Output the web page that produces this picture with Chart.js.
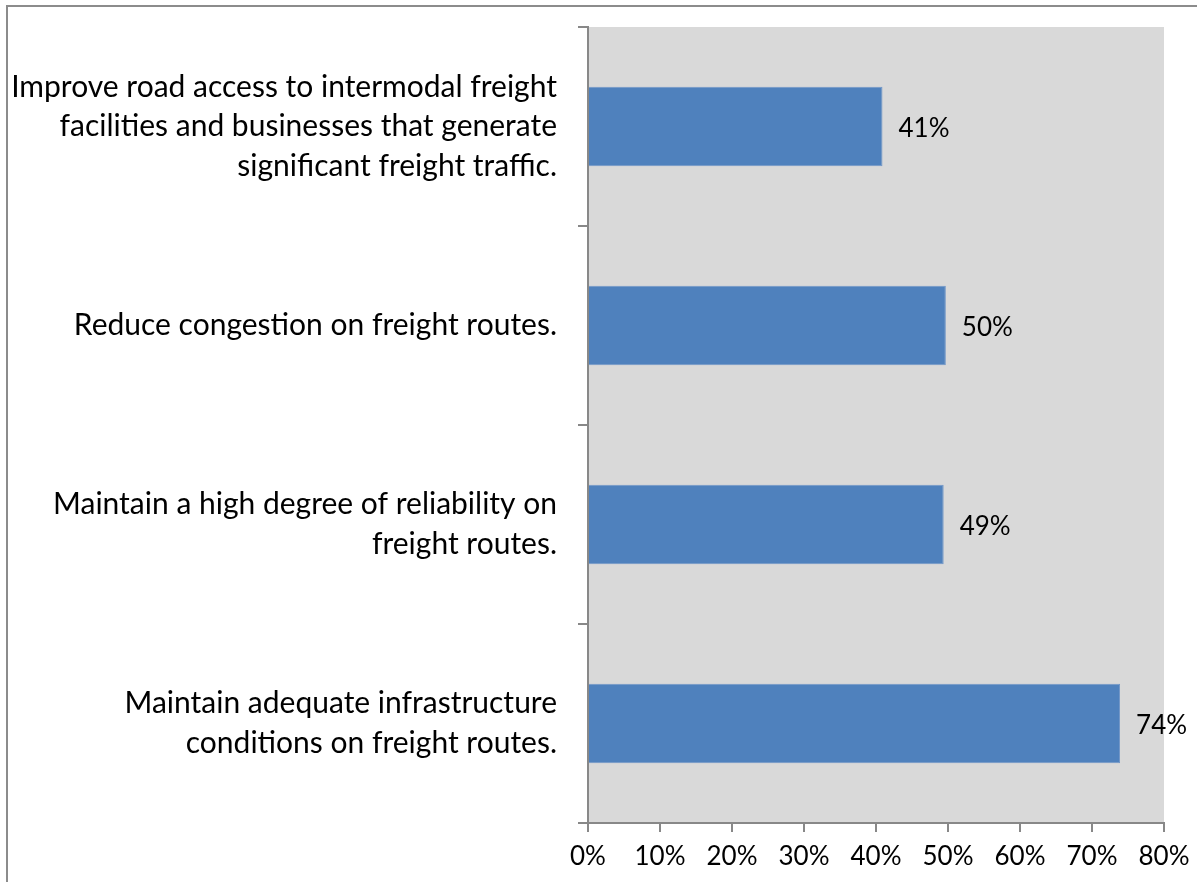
<!DOCTYPE html>
<html>
<head>
<meta charset="utf-8">
<script src="https://cdn.jsdelivr.net/npm/chart.js@4/dist/chart.umd.min.js"></script>
<style>
  html, body { margin: 0; padding: 0; background: #ffffff; }
  #wrap { width: 1197px; height: 882px; position: relative; }
</style>
</head>
<body>
<div id="wrap"><canvas id="c" width="1197" height="882"></canvas></div>
<script>
const categories = [
  ["Improve road access to intermodal freight", "facilities and businesses that generate", "significant freight traffic."],
  ["Reduce congestion on freight routes."],
  ["Maintain a high degree of reliability on", "freight routes."],
  ["Maintain adequate infrastructure", "conditions on freight routes."]
];
const values = [40.9, 49.7, 49.4, 73.9];
const tickValues = [0, 10, 20, 30, 40, 50, 60, 70, 80];

const FONT = "Lato, 'Open Sans', sans-serif";
const AXIS_COLOR = "#888888";

const plotBg = {
  id: 'plotBg',
  beforeDraw(chart) {
    const { ctx, chartArea: a } = chart;
    ctx.save();
    ctx.fillStyle = '#ffffff';
    ctx.fillRect(0, 0, chart.width, chart.height);
    ctx.strokeStyle = '#8c8c8c';
    ctx.lineWidth = 2;
    ctx.strokeRect(7, 6, chart.width + 20, chart.height + 20);
    ctx.fillStyle = '#d9d9d9';
    ctx.fillRect(a.left, a.top, a.right - a.left, a.bottom - a.top);
    ctx.restore();
  }
};

const dataLabels = {
  id: 'dataLabels',
  afterDatasetsDraw(chart) {
    const { ctx } = chart;
    const meta = chart.getDatasetMeta(0);
    ctx.save();
    ctx.fillStyle = '#000000';
    ctx.font = "26px " + FONT;
    ctx.textAlign = 'left';
    ctx.textBaseline = 'middle';
    meta.data.forEach((bar, i) => {
      ctx.fillText(Math.round(values[i]) + '%', bar.x + 16, bar.y + 2);
    });
    ctx.restore();
  }
};

new Chart(document.getElementById('c'), {
  type: 'bar',
  data: {
    labels: categories,
    datasets: [{
      data: values,
      backgroundColor: '#4F81BD',
      borderColor: '#7096C8',
      borderWidth: 1,
      categoryPercentage: 1.0,
      barPercentage: 0.4
    }]
  },
  options: {
    indexAxis: 'y',
    responsive: false,
    animation: false,
    devicePixelRatio: 1,
    layout: { padding: { left: 0, right: 33, top: 27, bottom: 0 } },
    plugins: { legend: { display: false }, tooltip: { enabled: false } },
    scales: {
      x: {
        min: 0, max: 80,
        afterBuildTicks(scale) { scale.ticks = tickValues.map(v => ({ value: v })); },
        afterFit(scale) { scale.height = 59; scale.paddingLeft = 0; scale.paddingRight = 0; },
        ticks: {
          callback: v => v + '%',
          color: '#000000',
          font: { family: FONT, size: 26 },
          padding: 9,
          maxRotation: 0
        },
        grid: { drawOnChartArea: false, drawTicks: true, tickLength: 9, color: AXIS_COLOR, lineWidth: 2 },
        border: { display: true, color: AXIS_COLOR, width: 2 }
      },
      y: {
        afterFit(scale) { scale.width = 588; scale.paddingTop = 0; scale.paddingBottom = 0; },
        ticks: {
          color: '#000000',
          font: { family: FONT, size: 30, lineHeight: 1.32 },
          padding: 21,
          autoSkip: false
        },
        grid: { drawOnChartArea: false, drawTicks: true, tickLength: 10, color: AXIS_COLOR, lineWidth: 2, offset: true },
        border: { display: true, color: AXIS_COLOR, width: 2 }
      }
    }
  },
  plugins: [plotBg, dataLabels]
});
</script>
</body>
</html>
